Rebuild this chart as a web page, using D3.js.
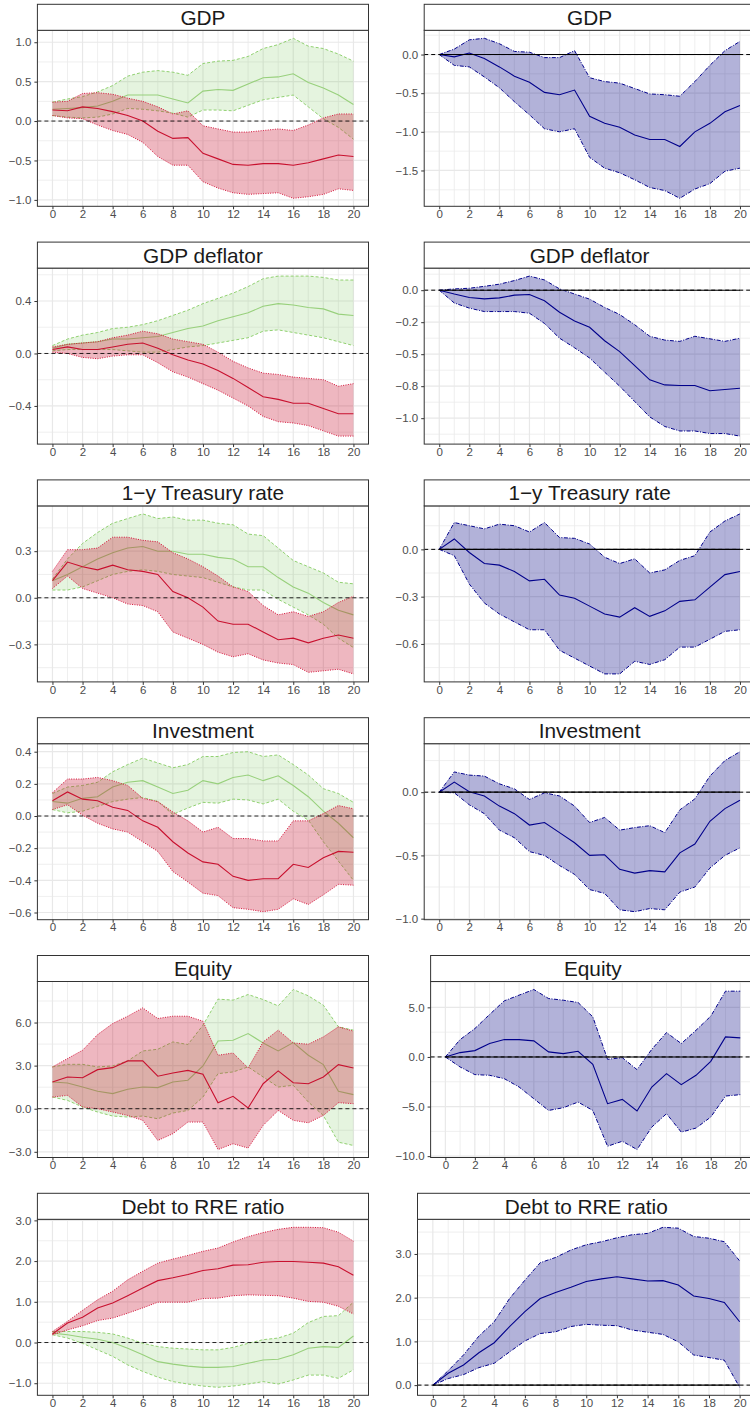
<!DOCTYPE html>
<html><head><meta charset="utf-8">
<script src="https://cdn.jsdelivr.net/npm/d3@7"></script>
<style>
body{margin:0;background:#fff;}
svg{display:block;font-family:"Liberation Sans",Arial,Helvetica,sans-serif;}
</style>
</head><body>
<svg id="c" width="750" height="1409"></svg>
<script>
// ---------------- DATA ----------------
const horizons = [0,1,2,3,4,5,6,7,8,9,10,11,12,13,14,15,16,17,18,19,20];
const xTicks = [0,2,4,6,8,10,12,14,16,18,20];
const titles = ["GDP","GDP deflator","1\u2212y Treasury rate","Investment","Equity","Debt to RRE ratio"];

// GDP (left)
const gdpL_greenMid = [0.15,0.16,0.17,0.19,0.25,0.33,0.33,0.33,0.28,0.23,0.38,0.40,0.39,0.47,0.55,0.56,0.60,0.49,0.42,0.33,0.21];
const gdpL_greenHi  = [0.24,0.28,0.31,0.37,0.45,0.57,0.62,0.64,0.62,0.58,0.73,0.76,0.77,0.82,0.92,0.97,1.05,0.95,0.92,0.85,0.76];
const gdpL_greenLo  = [0.07,0.05,0.04,0.05,0.09,0.16,0.15,0.13,0.10,0.05,0.14,0.14,0.13,0.20,0.27,0.30,0.33,0.18,0.03,-0.08,-0.23];
const gdpL_redMid   = [0.14,0.13,0.18,0.16,0.12,0.07,0.00,-0.13,-0.22,-0.21,-0.41,-0.48,-0.55,-0.56,-0.54,-0.54,-0.56,-0.53,-0.48,-0.43,-0.45];
const gdpL_redHi    = [0.24,0.25,0.35,0.36,0.34,0.29,0.25,0.18,0.09,0.13,-0.06,-0.10,-0.14,-0.14,-0.12,-0.10,-0.12,-0.05,0.04,0.09,0.09];
const gdpL_redLo    = [0.07,0.04,0.03,-0.05,-0.12,-0.17,-0.27,-0.45,-0.56,-0.56,-0.77,-0.85,-0.91,-0.93,-0.92,-0.91,-0.98,-0.96,-0.93,-0.86,-0.88];
const gdpL_ticks = [-1,-0.5,0,0.5,1];
const gdpL_labels = ["\u22121.0","\u22120.5","0.0","0.5","1.0"];

// GDP (right)
const gdpR_mid = [0,-0.03,0.02,-0.05,-0.16,-0.28,-0.36,-0.49,-0.52,-0.46,-0.80,-0.89,-0.94,-1.04,-1.10,-1.10,-1.19,-1.00,-0.89,-0.74,-0.66];
const gdpR_hi  = [0,0.07,0.19,0.21,0.14,0.04,0.03,-0.04,-0.04,0.05,-0.30,-0.35,-0.37,-0.44,-0.51,-0.52,-0.54,-0.35,-0.14,0.05,0.17];
const gdpR_lo  = [0,-0.14,-0.16,-0.29,-0.43,-0.61,-0.78,-0.96,-1.00,-0.96,-1.33,-1.47,-1.53,-1.62,-1.72,-1.76,-1.86,-1.74,-1.67,-1.51,-1.47];
const gdpR_ticks = [-1.5,-1,-0.5,0];
const gdpR_labels = ["\u22121.5","\u22121.0","\u22120.5","0.0"];

// GDP deflator (left)
const defL_greenMid = [0.04,0.07,0.08,0.09,0.11,0.11,0.12,0.13,0.16,0.19,0.21,0.25,0.28,0.31,0.36,0.38,0.37,0.35,0.34,0.30,0.29];
const defL_greenHi  = [0.06,0.11,0.14,0.16,0.19,0.20,0.22,0.25,0.29,0.33,0.38,0.42,0.46,0.51,0.57,0.59,0.59,0.59,0.58,0.56,0.56];
const defL_greenLo  = [0.02,0.03,0.03,0.03,0.03,0.02,0.01,0.01,0.03,0.05,0.06,0.08,0.10,0.12,0.17,0.18,0.16,0.14,0.12,0.09,0.06];
const defL_redMid   = [0.03,0.05,0.03,0.03,0.05,0.07,0.08,0.04,-0.01,-0.05,-0.08,-0.13,-0.19,-0.26,-0.33,-0.35,-0.38,-0.38,-0.42,-0.46,-0.46];
const defL_redHi    = [0.05,0.07,0.08,0.09,0.12,0.14,0.17,0.15,0.11,0.09,0.07,0.01,-0.06,-0.11,-0.15,-0.16,-0.18,-0.19,-0.20,-0.25,-0.23];
const defL_redLo    = [0.01,0.00,-0.03,-0.04,-0.02,-0.01,-0.01,-0.07,-0.14,-0.18,-0.23,-0.28,-0.34,-0.40,-0.48,-0.52,-0.53,-0.55,-0.59,-0.63,-0.63];
const defL_ticks = [-0.4,0,0.4];
const defL_labels = ["\u22120.4","0.0","0.4"];

// GDP deflator (right)
const defR_mid = [0,-0.03,-0.057,-0.068,-0.06,-0.039,-0.034,-0.083,-0.172,-0.24,-0.29,-0.395,-0.48,-0.59,-0.70,-0.74,-0.745,-0.745,-0.786,-0.776,-0.766];
const defR_hi  = [0,0.01,0.015,0.03,0.047,0.075,0.11,0.08,0.01,-0.03,-0.07,-0.135,-0.19,-0.27,-0.36,-0.39,-0.40,-0.36,-0.38,-0.40,-0.375];
const defR_lo  = [0,-0.10,-0.14,-0.167,-0.167,-0.167,-0.18,-0.26,-0.375,-0.45,-0.53,-0.64,-0.75,-0.87,-0.99,-1.065,-1.10,-1.10,-1.12,-1.12,-1.14];
const defR_ticks = [-1,-0.75,-0.5,-0.25,0];
const defR_labels = ["\u22121.0","\u22120.8","\u22120.5","\u22120.2","0.0"];

// 1-y Treasury rate (left)
const trL_greenMid = [0.11,0.15,0.20,0.25,0.29,0.32,0.33,0.30,0.30,0.28,0.28,0.26,0.25,0.20,0.20,0.13,0.07,0.03,-0.03,-0.08,-0.11];
const trL_greenHi  = [0.12,0.25,0.35,0.42,0.48,0.51,0.54,0.51,0.52,0.50,0.50,0.48,0.47,0.41,0.40,0.32,0.24,0.20,0.16,0.10,0.09];
const trL_greenLo  = [0.05,0.05,0.07,0.11,0.15,0.17,0.18,0.17,0.15,0.14,0.13,0.10,0.07,0.05,0.05,-0.01,-0.06,-0.11,-0.17,-0.26,-0.32];
const trL_redMid   = [0.11,0.23,0.20,0.18,0.21,0.18,0.17,0.15,0.04,0.00,-0.06,-0.15,-0.17,-0.17,-0.22,-0.27,-0.26,-0.29,-0.26,-0.24,-0.26];
const trL_redHi    = [0.17,0.31,0.31,0.32,0.39,0.39,0.37,0.36,0.29,0.25,0.20,0.14,0.07,0.04,-0.05,-0.11,-0.09,-0.12,-0.09,-0.03,0.01];
const trL_redLo    = [0.06,0.14,0.06,0.03,0.00,-0.04,-0.05,-0.09,-0.22,-0.26,-0.30,-0.35,-0.38,-0.36,-0.40,-0.42,-0.43,-0.48,-0.47,-0.46,-0.49];
const trL_ticks = [-0.3,0,0.3];
const trL_labels = ["\u22120.3","0.0","0.3"];

// 1-y Treasury rate (right)
const trR_mid = [0,0.066,-0.02,-0.09,-0.10,-0.14,-0.20,-0.19,-0.29,-0.31,-0.36,-0.41,-0.43,-0.37,-0.425,-0.39,-0.33,-0.32,-0.24,-0.16,-0.14];
const trR_hi  = [0,0.17,0.15,0.13,0.16,0.15,0.11,0.17,0.075,0.07,0.034,-0.05,-0.09,-0.06,-0.15,-0.13,-0.07,-0.04,0.11,0.18,0.225];
const trR_lo  = [0,-0.04,-0.22,-0.34,-0.41,-0.46,-0.51,-0.51,-0.64,-0.69,-0.74,-0.79,-0.79,-0.71,-0.73,-0.70,-0.62,-0.62,-0.57,-0.52,-0.51];
const trR_ticks = [-0.6,-0.3,0];
const trR_labels = ["\u22120.6","\u22120.3","0.0"];

// Investment (left)
const invL_greenMid = [0.09,0.08,0.11,0.12,0.18,0.21,0.22,0.18,0.14,0.16,0.22,0.20,0.24,0.255,0.22,0.25,0.19,0.12,0.03,-0.045,-0.135];
const invL_greenHi  = [0.14,0.18,0.19,0.21,0.275,0.32,0.36,0.33,0.30,0.32,0.37,0.37,0.395,0.40,0.37,0.38,0.32,0.255,0.17,0.14,0.085];
const invL_greenLo  = [0.04,0.02,0.03,0.06,0.09,0.105,0.115,0.09,0.01,0.05,0.085,0.08,0.105,0.10,0.075,0.105,0.03,-0.025,-0.16,-0.28,-0.40];
const invL_redMid   = [0.095,0.15,0.105,0.095,0.055,0.035,-0.03,-0.07,-0.16,-0.23,-0.285,-0.30,-0.375,-0.40,-0.39,-0.39,-0.30,-0.32,-0.26,-0.22,-0.225];
const invL_redHi    = [0.145,0.23,0.23,0.24,0.22,0.19,0.11,0.09,0.025,-0.03,-0.10,-0.07,-0.14,-0.14,-0.155,-0.155,-0.03,-0.03,0.015,0.065,0.045];
const invL_redLo    = [0.04,0.07,0.005,-0.045,-0.08,-0.10,-0.16,-0.22,-0.345,-0.41,-0.48,-0.495,-0.57,-0.58,-0.595,-0.58,-0.515,-0.55,-0.49,-0.425,-0.43];
const invL_ticks = [-0.6,-0.4,-0.2,0,0.2,0.4];
const invL_labels = ["\u22120.6","\u22120.4","\u22120.2","0.0","0.2","0.4"];

// Investment (right)
const invR_mid = [0,0.08,0.003,-0.03,-0.11,-0.17,-0.26,-0.24,-0.32,-0.40,-0.50,-0.495,-0.61,-0.64,-0.62,-0.63,-0.48,-0.41,-0.23,-0.13,-0.064];
const invR_hi  = [0,0.16,0.135,0.127,0.066,0.026,-0.058,-0.005,-0.03,-0.11,-0.24,-0.20,-0.30,-0.28,-0.265,-0.32,-0.14,-0.053,0.127,0.25,0.32];
const invR_lo  = [0,-0.005,-0.10,-0.17,-0.30,-0.36,-0.47,-0.50,-0.58,-0.65,-0.77,-0.80,-0.93,-0.945,-0.92,-0.93,-0.79,-0.75,-0.60,-0.50,-0.44];
const invR_ticks = [-1,-0.5,0];
const invR_labels = ["\u22121.0","\u22120.5","0.0"];

// Equity (left)
const eqL_greenMid = [1.86,1.79,1.51,1.21,1.05,1.35,1.51,1.47,1.86,1.98,2.98,4.72,4.77,5.23,4.58,4.02,4.60,3.72,3.07,1.21,0.98];
const eqL_greenHi  = [2.91,3.09,3.09,2.91,2.98,3.33,4.02,4.14,4.65,4.47,5.81,7.63,7.56,7.95,7.60,7.16,8.30,7.86,7.21,5.70,5.47];
const eqL_greenLo  = [0.81,0.58,0.12,-0.23,-0.51,-0.58,-0.51,-0.70,-0.30,-0.12,0.81,2.44,2.56,2.91,2.21,1.51,1.63,0.47,-0.47,-2.33,-2.56];
const eqL_redMid   = [1.86,2.21,2.16,2.72,2.86,3.33,3.33,2.26,2.49,2.67,2.40,0.42,0.86,0.05,1.74,2.63,1.81,1.74,2.21,3.07,2.84];
const eqL_redHi    = [2.91,3.49,4.07,5.16,5.93,6.44,7.02,6.28,6.44,6.44,6.09,3.72,3.88,2.84,4.65,5.47,4.58,4.49,5.00,5.70,5.40];
const eqL_redLo    = [0.81,0.93,0.12,0.00,-0.23,-0.47,-0.81,-2.21,-1.74,-0.93,-0.93,-2.84,-2.44,-2.74,-1.16,-0.12,-0.81,-0.98,-0.47,0.42,0.35];
const eqL_ticks = [-3,0,3,6];
const eqL_labels = ["\u22123.0","0.0","3.0","6.0"];

// Equity (right)
const eqR_mid = [0,0.44,0.64,1.35,1.75,1.75,1.62,0.51,0.34,0.57,-0.74,-4.71,-4.28,-5.45,-3.03,-1.68,-2.79,-1.85,-0.44,2.02,1.92];
const eqR_hi  = [0,1.75,2.86,4.28,5.66,6.23,6.80,5.89,5.72,5.49,4.04,-0.24,-0.07,-1.28,0.77,2.46,1.35,2.69,4.11,6.63,6.63];
const eqR_lo  = [0,-1.01,-1.78,-1.85,-2.19,-3.03,-4.21,-5.39,-5.12,-4.55,-5.39,-9.00,-8.50,-9.33,-7.07,-5.72,-7.58,-7.17,-6.06,-3.94,-3.80];
const eqR_ticks = [-10,-5,0,5];
const eqR_labels = ["\u221210.0","\u22125.0","0.0","5.0"];

// Debt to RRE ratio (left)
const debtL_greenMid = [0.23,0.19,0.13,0.08,0.00,-0.14,-0.30,-0.47,-0.53,-0.58,-0.61,-0.61,-0.59,-0.51,-0.43,-0.41,-0.30,-0.14,-0.10,-0.12,0.16];
const debtL_greenHi  = [0.27,0.27,0.27,0.25,0.21,0.11,-0.02,-0.10,-0.14,-0.16,-0.18,-0.18,-0.12,-0.02,0.07,0.11,0.23,0.49,0.64,0.66,0.99];
const debtL_greenLo  = [0.19,0.11,-0.02,-0.18,-0.34,-0.55,-0.71,-0.85,-0.96,-1.02,-1.07,-1.10,-1.07,-1.02,-0.96,-1.02,-0.92,-0.80,-0.80,-0.88,-0.67];
const debtL_redMid   = [0.21,0.48,0.62,0.85,0.97,1.15,1.34,1.52,1.59,1.67,1.77,1.81,1.90,1.91,1.97,1.99,1.99,1.97,1.95,1.86,1.65];
const debtL_redHi    = [0.27,0.52,0.79,1.05,1.26,1.54,1.75,1.95,2.05,2.14,2.24,2.32,2.47,2.60,2.70,2.78,2.83,2.83,2.82,2.71,2.49];
const debtL_redLo    = [0.19,0.31,0.41,0.54,0.60,0.72,0.85,0.99,0.99,0.99,1.08,1.09,1.15,1.17,1.16,1.15,1.09,1.01,0.99,0.89,0.70];
const debtL_ticks = [-1,0,1,2,3];
const debtL_labels = ["\u22121.0","0.0","1.0","2.0","3.0"];

// Debt to RRE ratio (right)
const debtR_mid = [0,0.27,0.46,0.74,0.97,1.34,1.68,1.98,2.12,2.24,2.37,2.43,2.48,2.43,2.38,2.39,2.29,2.04,1.98,1.89,1.45];
const debtR_hi  = [0,0.33,0.69,1.12,1.45,1.98,2.40,2.80,2.92,3.09,3.21,3.28,3.37,3.44,3.47,3.61,3.59,3.40,3.36,3.28,2.84];
const debtR_lo  = [0,0.15,0.24,0.40,0.50,0.76,1.01,1.18,1.22,1.34,1.39,1.37,1.36,1.26,1.21,1.16,0.99,0.69,0.63,0.57,-0.05];
const debtR_ticks = [0,1,2,3];
const debtR_labels = ["0.0","1.0","2.0","3.0"];

// ---------------- PANEL TABLE ----------------
const panels = [
  {row:0,col:0,title:titles[0],ticks:gdpL_ticks,labels:gdpL_labels,series:[
    {kind:"green",mid:gdpL_greenMid,hi:gdpL_greenHi,lo:gdpL_greenLo},
    {kind:"red",mid:gdpL_redMid,hi:gdpL_redHi,lo:gdpL_redLo}]},
  {row:0,col:1,title:titles[0],ticks:gdpR_ticks,labels:gdpR_labels,series:[
    {kind:"blue",mid:gdpR_mid,hi:gdpR_hi,lo:gdpR_lo}]},
  {row:1,col:0,title:titles[1],ticks:defL_ticks,labels:defL_labels,series:[
    {kind:"green",mid:defL_greenMid,hi:defL_greenHi,lo:defL_greenLo},
    {kind:"red",mid:defL_redMid,hi:defL_redHi,lo:defL_redLo}]},
  {row:1,col:1,title:titles[1],ticks:defR_ticks,labels:defR_labels,series:[
    {kind:"blue",mid:defR_mid,hi:defR_hi,lo:defR_lo}]},
  {row:2,col:0,title:titles[2],ticks:trL_ticks,labels:trL_labels,series:[
    {kind:"green",mid:trL_greenMid,hi:trL_greenHi,lo:trL_greenLo},
    {kind:"red",mid:trL_redMid,hi:trL_redHi,lo:trL_redLo}]},
  {row:2,col:1,title:titles[2],ticks:trR_ticks,labels:trR_labels,series:[
    {kind:"blue",mid:trR_mid,hi:trR_hi,lo:trR_lo}]},
  {row:3,col:0,title:titles[3],ticks:invL_ticks,labels:invL_labels,series:[
    {kind:"green",mid:invL_greenMid,hi:invL_greenHi,lo:invL_greenLo},
    {kind:"red",mid:invL_redMid,hi:invL_redHi,lo:invL_redLo}]},
  {row:3,col:1,title:titles[3],ticks:invR_ticks,labels:invR_labels,series:[
    {kind:"blue",mid:invR_mid,hi:invR_hi,lo:invR_lo}]},
  {row:4,col:0,title:titles[4],ticks:eqL_ticks,labels:eqL_labels,series:[
    {kind:"green",mid:eqL_greenMid,hi:eqL_greenHi,lo:eqL_greenLo},
    {kind:"red",mid:eqL_redMid,hi:eqL_redHi,lo:eqL_redLo}]},
  {row:4,col:1,title:titles[4],ticks:eqR_ticks,labels:eqR_labels,series:[
    {kind:"blue",mid:eqR_mid,hi:eqR_hi,lo:eqR_lo}]},
  {row:5,col:0,title:titles[5],ticks:debtL_ticks,labels:debtL_labels,series:[
    {kind:"green",mid:debtL_greenMid,hi:debtL_greenHi,lo:debtL_greenLo},
    {kind:"red",mid:debtL_redMid,hi:debtL_redHi,lo:debtL_redLo}]},
  {row:5,col:1,title:titles[5],ticks:debtR_ticks,labels:debtR_labels,series:[
    {kind:"blue",mid:debtR_mid,hi:debtR_hi,lo:debtR_lo}]}
];

// ---------------- STYLE / LAYOUT ----------------
const styles = {
  green:{fill:"#7dc95e",op:0.2,edge:"#90d070",dash:"3,2",line:"#98d07c"},
  red:  {fill:"#c8102e",op:0.3,edge:"#d4143a",dash:"1,1.4",line:"#c8102e"},
  blue: {fill:"#000080",op:0.3,edge:"#00008b",dash:"4,1.5,1,1.5",line:"#00008b"}
};
const ROW0 = 4.3, ROWSTEP = 237.8, STRIP_H = 26, PANEL_H = 176;
const COLS = [{labelStart:8.2,right:368.5},{labelStart:395,right:755}];
const TICK_FS = 11.5, TITLE_FS = 20.8;

const svg = d3.select("#c");

panels.forEach((p, pi) => {
  const top = ROW0 + p.row*ROWSTEP;
  const pTop = top + STRIP_H, pBot = pTop + PANEL_H;
  const g = svg.append("g");

  const tmp = g.append("g").attr("font-size", TICK_FS);
  let maxW = 0;
  p.labels.forEach(l => { const t = tmp.append("text").text(l); maxW = Math.max(maxW, t.node().getComputedTextLength()); });
  tmp.remove();
  const left = COLS[p.col].labelStart + maxW + 6.5;
  const right = COLS[p.col].right;

  const all = p.series.flatMap(s => [...s.lo, ...s.hi, ...s.mid]);
  const [mn, mx] = d3.extent(all);
  const pad = (mx - mn) * 0.05;
  const y = d3.scaleLinear().domain([mn - pad, mx + pad]).range([pBot, pTop]);
  const x = d3.scaleLinear().domain([horizons[0] - 1, horizons[horizons.length-1] + 1]).range([left, right]);

  const clipId = "clip" + pi;
  g.append("clipPath").attr("id", clipId).append("rect")
    .attr("x", left).attr("y", pTop).attr("width", right-left).attr("height", PANEL_H);

  const plot = g.append("g").attr("clip-path", `url(#${clipId})`);
  plot.append("rect").attr("x", left).attr("y", pTop).attr("width", right-left).attr("height", PANEL_H).attr("fill", "#fff");

  const step = p.ticks[1] - p.ticks[0];
  const yMinor = [p.ticks[0] - step/2, ...p.ticks.map(t => t + step/2)].filter(v => v > y.domain()[0] && v < y.domain()[1]);
  const xMinor = horizons.filter(h => h % 2 === 1);
  plot.selectAll(null).data(yMinor).enter().append("line")
    .attr("x1", left).attr("x2", right).attr("y1", d => y(d)).attr("y2", d => y(d))
    .attr("stroke", "#ebebeb").attr("stroke-width", 0.8);
  plot.selectAll(null).data(xMinor).enter().append("line")
    .attr("x1", d => x(d)).attr("x2", d => x(d)).attr("y1", pTop).attr("y2", pBot)
    .attr("stroke", "#ebebeb").attr("stroke-width", 0.8);
  plot.selectAll(null).data(p.ticks).enter().append("line")
    .attr("x1", left).attr("x2", right).attr("y1", d => y(d)).attr("y2", d => y(d))
    .attr("stroke", "#e8e8e8").attr("stroke-width", 1.2);
  plot.selectAll(null).data(xTicks).enter().append("line")
    .attr("x1", d => x(d)).attr("x2", d => x(d)).attr("y1", pTop).attr("y2", pBot)
    .attr("stroke", "#e8e8e8").attr("stroke-width", 1.2);

  p.series.forEach(s => {
    const st = styles[s.kind];
    const area = d3.area().x((d,i) => x(horizons[i])).y0((d,i) => y(s.lo[i])).y1((d,i) => y(s.hi[i]));
    const line = arr => d3.line().x((d,i) => x(horizons[i])).y(d => y(d))(arr);
    plot.append("path").attr("d", area(horizons)).attr("fill", st.fill).attr("fill-opacity", st.op);
    [s.lo, s.hi].forEach(arr => plot.append("path").attr("d", line(arr))
      .attr("fill", "none").attr("stroke", st.edge).attr("stroke-width", 1).attr("stroke-dasharray", st.dash));
    plot.append("path").attr("d", line(s.mid)).attr("fill", "none").attr("stroke", st.line).attr("stroke-width", 1.1);
  });

  if (p.col === 1) {
    plot.append("line").attr("x1", x(horizons[0])).attr("x2", x(horizons[horizons.length-1]))
      .attr("y1", y(0)).attr("y2", y(0)).attr("stroke", "#000").attr("stroke-width", 1.1);
  }
  plot.append("line").attr("x1", left).attr("x2", right).attr("y1", y(0)).attr("y2", y(0))
    .attr("stroke", "#000").attr("stroke-width", 1).attr("stroke-dasharray", "4,3")
    .attr("stroke-opacity", p.col === 1 ? 1 : 0.85);

  g.append("rect").attr("x", left).attr("y", pTop).attr("width", right-left).attr("height", PANEL_H)
    .attr("fill", "none").attr("stroke", "#333").attr("stroke-width", 1);

  g.append("rect").attr("x", left).attr("y", top).attr("width", right-left).attr("height", STRIP_H)
    .attr("fill", "#fff").attr("stroke", "#333").attr("stroke-width", 1);
  g.append("text").attr("x", (left+right)/2).attr("y", top + STRIP_H/2 + 7.4)
    .attr("text-anchor", "middle").attr("font-size", TITLE_FS).attr("fill", "#1a1a1a").text(p.title);

  const ya = g.append("g").attr("transform", `translate(${left},0)`)
    .call(d3.axisLeft(y).tickValues(p.ticks).tickFormat((d,i) => p.labels[i]).tickSize(3).tickPadding(3));
  const xa = g.append("g").attr("transform", `translate(0,${pBot})`)
    .call(d3.axisBottom(x).tickValues(xTicks).tickFormat(d => String(d)).tickSize(3).tickPadding(0.5));
  [ya, xa].forEach(a => {
    a.select(".domain").remove();
    a.selectAll(".tick line").attr("stroke", "#333").attr("stroke-width", 1);
    a.selectAll(".tick text").attr("fill", "#4d4d4d").attr("font-size", TICK_FS)
      .attr("font-family", '"Liberation Sans",Arial,Helvetica,sans-serif');
  });
});
</script>
</body></html>
